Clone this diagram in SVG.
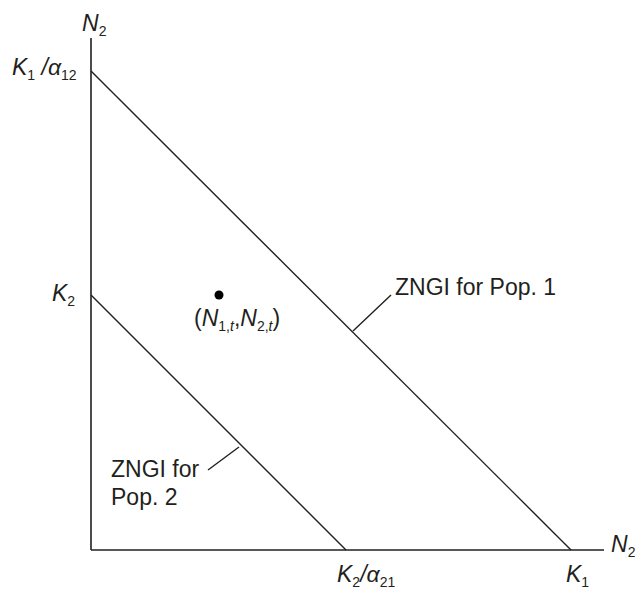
<svg xmlns="http://www.w3.org/2000/svg" width="635" height="593" viewBox="0 0 635 593">
<style>
.ax{stroke:#231f20;stroke-width:1.6;fill:none}
.ln{stroke:#231f20;stroke-width:1.4;fill:none}
text{font-family:"Liberation Sans",Arial,sans-serif;font-size:23px;fill:#231f20}
.i{font-style:italic}
.s{font-size:14px;font-style:normal}
</style>
<rect width="635" height="593" fill="#fff"/>
<g id="axes">
<line class="ax" x1="91" y1="38" x2="91" y2="550"/>
<line class="ax" x1="91" y1="550" x2="604" y2="550"/>
</g>
<g id="connectors">
<line id="zngi1" class="ln" x1="91" y1="71" x2="571" y2="550"/>
<line id="zngi2" class="ln" x1="91" y1="295" x2="346" y2="550"/>
<line id="leader1" class="ln" x1="353" y1="331" x2="391" y2="295"/>
<line id="leader2" class="ln" x1="208" y1="470" x2="239" y2="447"/>
</g>
<g id="point">
<circle cx="219" cy="295" r="4.5" fill="#000"/>
<text x="194" y="326">(<tspan class="i">N</tspan><tspan class="s" dy="5">1,<tspan class="i">t</tspan></tspan><tspan dy="-5">,</tspan><tspan class="i">N</tspan><tspan class="s" dy="5">2,<tspan class="i">t</tspan></tspan><tspan dy="-5">)</tspan></text>
</g>
<g id="labels">
<text x="82" y="31"><tspan class="i">N</tspan><tspan class="s" dy="5">2</tspan></text>
<text x="12" y="75"><tspan class="i">K</tspan><tspan class="s" dy="5">1</tspan><tspan class="i" dy="-5"> /α</tspan><tspan class="s" dy="5">12</tspan></text>
<text x="52" y="301"><tspan class="i">K</tspan><tspan class="s" dy="5">2</tspan></text>
<text x="395" y="295">ZNGI for Pop. 1</text>
<text x="111" y="477">ZNGI for</text>
<text x="111" y="505">Pop. 2</text>
<text x="611" y="552"><tspan class="i">N</tspan><tspan class="s" dy="5">2</tspan></text>
<text x="337" y="582"><tspan class="i">K</tspan><tspan class="s" dy="5">2</tspan><tspan class="i" dy="-5">/α</tspan><tspan class="s" dy="5">21</tspan></text>
<text x="566" y="582"><tspan class="i">K</tspan><tspan class="s" dy="5">1</tspan></text>
</g>
</svg>
